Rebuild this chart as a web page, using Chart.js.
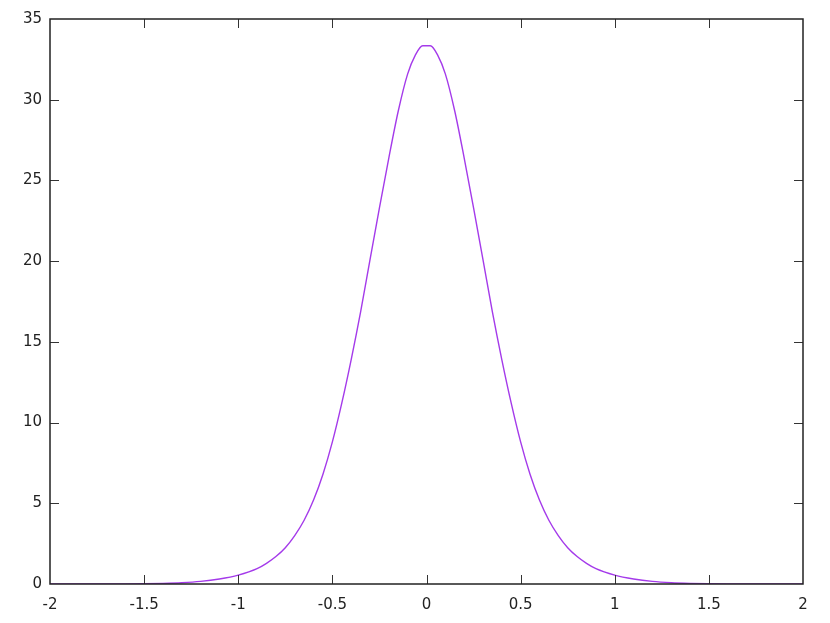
<!DOCTYPE html>
<html>
<head>
<meta charset="utf-8">
<script src="https://cdn.jsdelivr.net/npm/chart.js@4"></script>
<style>
  html, body { margin: 0; padding: 0; background: #fff; }
  #wrap { width: 830px; height: 623px; position: relative; }
</style>
</head>
<body>
<div id="wrap"><canvas id="plot"></canvas></div>
<script>
// values
const xValues = [-2, -1.8, -1.6, -1.5, -1.4, -1.3, -1.2, -1.1, -1.0, -0.9, -0.85, -0.8, -0.75, -0.7, -0.65, -0.6, -0.55, -0.5, -0.45, -0.4, -0.35, -0.3, -0.25, -0.2, -0.15, -0.1, -0.06, -0.02,
                 0.02, 0.06, 0.1, 0.15, 0.2, 0.25, 0.3, 0.35, 0.4, 0.45, 0.5, 0.55, 0.6, 0.65, 0.7, 0.75, 0.8, 0.85, 0.9, 1.0, 1.1, 1.2, 1.3, 1.4, 1.5, 1.6, 1.8, 2];
const yValues = [0.001, 0.003, 0.01, 0.02, 0.04, 0.08, 0.16, 0.31, 0.55, 0.95, 1.28, 1.7, 2.25, 3.0, 3.95, 5.2, 6.8, 8.8, 11.2, 13.9, 16.85, 20.1, 23.3, 26.4, 29.3, 31.6, 32.75, 33.34,
                 33.34, 32.75, 31.6, 29.3, 26.4, 23.3, 20.1, 16.85, 13.9, 11.2, 8.8, 6.8, 5.2, 3.95, 3.0, 2.25, 1.7, 1.28, 0.95, 0.55, 0.31, 0.16, 0.08, 0.04, 0.02, 0.01, 0.003, 0.001];
const xTicks = [-2, -1.5, -1, -0.5, 0, 0.5, 1, 1.5, 2];
const yTicks = [0, 5, 10, 15, 20, 25, 30, 35];

const $ = (id) => document.getElementById(id);
const TICK_LEN = 9;

// gnuplot style frame with inward ticks on all four sides
const frameTicks = {
  id: "frameTicks",
  afterDraw(chart) {
    const { ctx, chartArea: a, scales } = chart;
    ctx.save();
    ctx.strokeStyle = "#333";
    ctx.lineWidth = 1;
    ctx.beginPath();
    xTicks.slice(1, -1).forEach(v => {
      const px = Math.round(scales.x.getPixelForValue(v)) + 0.5;
      ctx.moveTo(px, a.bottom); ctx.lineTo(px, a.bottom - TICK_LEN);
      ctx.moveTo(px, a.top); ctx.lineTo(px, a.top + TICK_LEN);
    });
    yTicks.slice(1, -1).forEach(v => {
      const py = Math.round(scales.y.getPixelForValue(v)) + 0.5;
      ctx.moveTo(a.left, py); ctx.lineTo(a.left + TICK_LEN, py);
      ctx.moveTo(a.right, py); ctx.lineTo(a.right - TICK_LEN, py);
    });
    ctx.stroke();
    ctx.strokeStyle = "#222";
    ctx.lineWidth = 1.5;
    ctx.strokeRect(a.left, a.top, a.right - a.left, a.bottom - a.top);
    ctx.restore();
  }
};

const points = xValues.map((x, i) => ({ x: x, y: yValues[i] }));

new Chart($("plot"), {
  type: "line",
  data: {
    datasets: [{
      data: points,
      borderColor: "#a43aea",
      borderWidth: 1.4,
      pointRadius: 0,
      cubicInterpolationMode: "monotone",
      fill: false
    }]
  },
  options: {
    responsive: true,
    maintainAspectRatio: false,
    animation: false,
    layout: { padding: { top: 19, right: 27, left: 0, bottom: 0 } },
    plugins: { legend: { display: false }, tooltip: { enabled: false } },
    scales: {
      x: {
        type: "linear",
        min: -2, max: 2,
        afterBuildTicks: (s) => { s.ticks = xTicks.map(v => ({ value: v })); },
        afterFit: (s) => { s.height = 39; },
        grid: { display: false, drawTicks: false },
        border: { display: false },
        ticks: { color: "#222", padding: 12, font: { family: "DejaVu Sans", size: 15 }, maxRotation: 0,
                 callback: (v) => String(v) }
      },
      y: {
        type: "linear",
        min: 0, max: 35,
        afterBuildTicks: (s) => { s.ticks = yTicks.map(v => ({ value: v })); },
        afterFit: (s) => { s.width = 50; },
        grid: { display: false, drawTicks: false },
        border: { display: false },
        ticks: { color: "#222", padding: 8, font: { family: "DejaVu Sans", size: 15 },
                 callback: (v) => String(v) }
      }
    }
  },
  plugins: [frameTicks]
});
</script>
</body>
</html>
